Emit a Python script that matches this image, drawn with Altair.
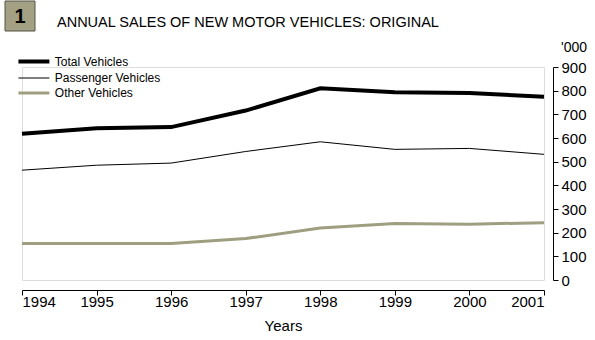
import altair as alt
import pandas as pd

years = [1994, 1995, 1996, 1997, 1998, 1999, 2000, 2001]
total = [618, 641, 646, 716, 810, 793, 790, 774]
passenger = [464, 485, 494, 543, 584, 552, 556, 531]
other = [154, 154, 154, 175, 220, 239, 236, 242]
series = ["Total Vehicles", "Passenger Vehicles", "Other Vehicles"]
colors = ["#000000", "#000000", "#a09e80"]
widths = [4, 1, 3]

rows = []
for name, vals in zip(series, [total, passenger, other]):
    for y, v in zip(years, vals):
        rows.append({"Year": y, "Series": name, "Value": v})
df = pd.DataFrame(rows)

FONT = "Liberation Sans"

leg = dict(title=None, orient="none", legendX=-13.07, legendY=-15,
           symbolType="M0,0H4.38", symbolSize=200,
           labelFontSize=12, labelFont=FONT, labelColor="black",
           labelOffset=26.9, rowPadding=0, padding=0)

lines = alt.Chart(df).mark_line(strokeJoin="miter").encode(
    x=alt.X("Year:Q",
            scale=alt.Scale(domain=[1994, 2001], nice=False, zero=False),
            axis=alt.Axis(values=years, format="d", title="Years", grid=False,
                          offset=10, tickSize=5, labelFontSize=15, titleFontSize=15,
                          labelPadding=-1, titlePadding=9, titleFontWeight="normal",
                          domainColor="black", tickColor="black", labelColor="black",
                          titleColor="black", labelFont=FONT, titleFont=FONT)),
    y=alt.Y("Value:Q",
            scale=alt.Scale(domain=[0, 900], nice=False),
            axis=alt.Axis(orient="right", values=list(range(0, 1000, 100)), title=None,
                          grid=False, offset=9, tickSize=5, labelFontSize=15,
                          labelPadding=3, domainColor="black", tickColor="black",
                          labelColor="black", labelFont=FONT)),
    color=alt.Color("Series:N", sort=series,
                    scale=alt.Scale(domain=series, range=colors),
                    legend=alt.Legend(**leg)),
    strokeWidth=alt.StrokeWidth("Series:N", sort=series,
                                scale=alt.Scale(type="ordinal", domain=series, range=widths),
                                legend=alt.Legend(**leg)),
    order=alt.Order("Year:Q"),
)

one = alt.Data(values=[{}])
box = alt.Chart(one).mark_rect(fill="#a3a083", stroke="#555544", strokeWidth=1).encode(
    x=alt.value(-17), x2=alt.value(13), y=alt.value(-66), y2=alt.value(-36))
num = alt.Chart(one).mark_text(text="1", fontSize=20, fontWeight="bold", font=FONT,
                               color="black", align="center", baseline="middle").encode(
    x=alt.value(-2), y=alt.value(-50))
title = alt.Chart(one).mark_text(text="ANNUAL SALES OF NEW MOTOR VEHICLES: ORIGINAL",
                                 fontSize=14.5, font=FONT, color="black",
                                 align="left", baseline="middle").encode(
    x=alt.value(35), y=alt.value(-44))
unit = alt.Chart(one).mark_text(text="'000", fontSize=14, font=FONT, color="black",
                                align="left", baseline="middle").encode(
    x=alt.value(539), y=alt.value(-19))

chart = alt.layer(lines, box, num, title, unit).properties(
    width=522, height=213,
    autosize=alt.AutoSizeParams(type="none"),
    padding={"left": 22, "top": 67, "right": 51, "bottom": 60},
).configure_view(stroke=None).configure(background="white")

chart.save("out.html", embed_options={"renderer": "svg", "actions": False})
